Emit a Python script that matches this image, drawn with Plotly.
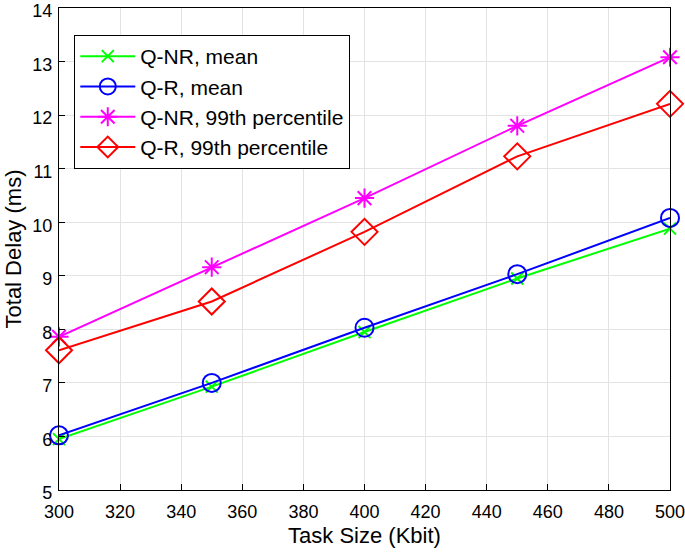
import plotly.graph_objects as go

task_size = [300, 350, 400, 450, 500]
qnr_mean = [5.95, 6.93, 7.95, 8.95, 9.88]
qr_mean = [6.02, 7.00, 8.03, 9.03, 10.08]
qnr_p99 = [7.86, 9.16, 10.45, 11.80, 13.08]
qr_p99 = [7.61, 8.52, 9.82, 11.23, 12.21]

x_ticks = [300, 320, 340, 360, 380, 400, 420, 440, 460, 480, 500]
y_ticks = [5, 6, 7, 8, 9, 10, 11, 12, 13, 14]

series = [
    ("Q-NR, mean", qnr_mean, "#00ff00", "x-thin-open", 12),
    ("Q-R, mean", qr_mean, "#0000ff", "circle-open", 18),
    ("Q-NR, 99th percentile", qnr_p99, "#ff00ff", "asterisk-open", 16),
    ("Q-R, 99th percentile", qr_p99, "#ff0000", "diamond-open", 20),
]

fig = go.Figure()
for name, vals, color, sym, size in series:
    fig.add_trace(go.Scatter(
        x=task_size, y=vals, name=name, mode="lines+markers",
        line=dict(color=color, width=2),
        marker=dict(symbol=sym, size=size, color=color, line=dict(color=color, width=2)),
        cliponaxis=False,
    ))

axis_common = dict(
    showline=True, linecolor="black", linewidth=1.2, mirror=True,
    ticks="inside", ticklen=6, tickcolor="black",
    showgrid=True, gridcolor="#e3e3e3", gridwidth=1,
    zeroline=False, automargin=False, ticklabeloverflow="allow",
    tickfont=dict(family="Liberation Sans, Arial", size=18, color="black"),
)

fig.update_layout(
    width=685, height=553,
    margin=dict(l=59, r=15, t=8, b=63),
    paper_bgcolor="white", plot_bgcolor="white",
    font=dict(family="Liberation Sans, Arial", color="black"),
    xaxis=dict(range=[300, 500], tickmode="array", tickvals=x_ticks,
               ticktext=[str(v) for v in x_ticks], ticklabelstandoff=5,
               title=dict(text="Task Size (Kbit)", font=dict(size=22), standoff=6), **axis_common),
    yaxis=dict(range=[5, 14], tickmode="array", tickvals=y_ticks,
               ticktext=[str(v) for v in y_ticks], ticklabelshift=3, ticklabelstandoff=2,
               title=dict(text="Total Delay (ms)", font=dict(size=22), standoff=4), **axis_common),
    legend=dict(
        x=0.025, y=0.944, xanchor="left", yanchor="top",
        bgcolor="white", bordercolor="black", borderwidth=1,
        font=dict(size=21, color="black"), tracegroupgap=0,
        itemwidth=55,
    ),
    showlegend=True,
)

fig.write_html("out.html", config={"displayModeBar": False},
               post_script="document.body.style.margin='0px';")
